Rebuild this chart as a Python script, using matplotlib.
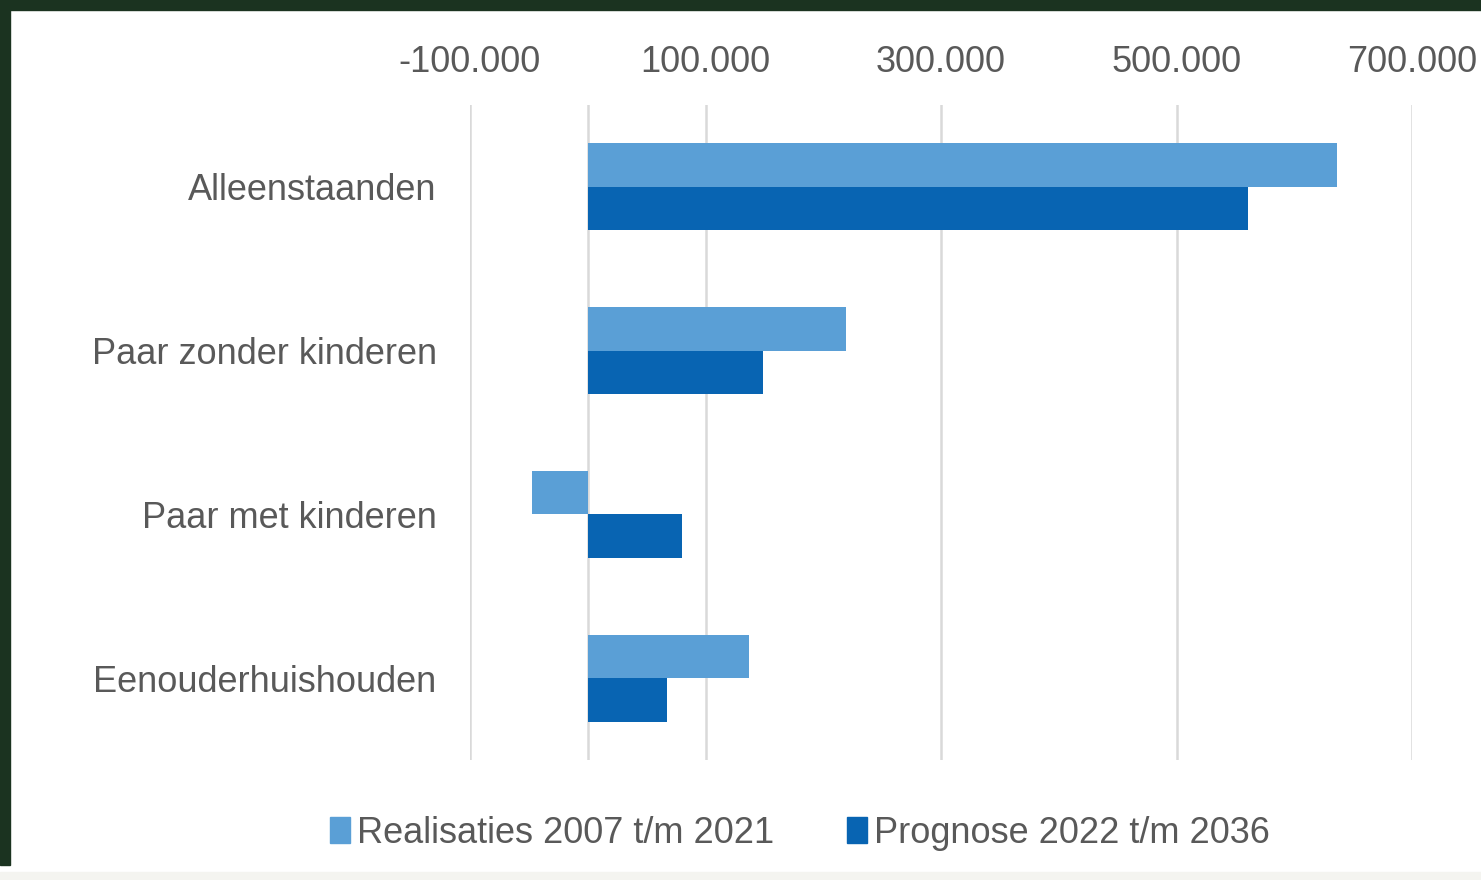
import matplotlib
matplotlib.use("Agg")
import matplotlib.pyplot as plt
import numpy as np
from matplotlib.patches import Rectangle, Patch

categories = ["Alleenstaanden", "Paar zonder kinderen", "Paar met kinderen", "Eenouderhuishouden"]
realisaties = [636000, 219000, -47000, 137000]
prognose = [561000, 149000, 80000, 67000]
series_names = ["Realisaties 2007 t/m 2021", "Prognose 2022 t/m 2036"]
tick_values = [-100000, 100000, 300000, 500000, 700000]
tick_labels = ["-100.000", "100.000", "300.000", "500.000", "700.000"]

light = "#5a9fd6"
dark = "#0864b2"
txt = "#595959"

plt.rcParams['font.family'] = ['Liberation Sans', 'DejaVu Sans']

fig = plt.figure(figsize=(14.81, 8.80), dpi=100)
fig.patch.set_facecolor("white")
# frame strips
fig.patches.append(Rectangle((0, 1 - 10/880), 1, 10/880, transform=fig.transFigure, color="#1b3320", zorder=0))
fig.patches.append(Rectangle((0, 15/880), 10/1481, 1, transform=fig.transFigure, color="#1b3320", zorder=0))
fig.patches.append(Rectangle((0, 0), 1, 8/880, transform=fig.transFigure, color="#f4f4f0", zorder=0))

ax = fig.add_axes([470/1481, 120/880, 942/1481, 655/880])
y = np.arange(len(categories))
h = 0.265
ax.barh(y - h/2, realisaties, height=h, color=light, zorder=3)
ax.barh(y + h/2, prognose, height=h, color=dark, zorder=3)

ax.set_xlim(-100000, 700000)
ax.set_ylim(len(categories) - 0.5, -0.5)
ax.set_xticks(tick_values)
ax.set_xticklabels(tick_labels)
ax.xaxis.tick_top()
ax.tick_params(axis='x', length=0, pad=18, labelsize=26, labelcolor=txt)
ax.set_yticks(y)
ax.set_yticklabels(categories)
ax.tick_params(axis='y', length=0, pad=24, labelsize=26, labelcolor=txt)
ax.grid(axis='x', color="#d9d9d9", linewidth=1.8, zorder=0)
ax.axvline(0, color="#d9d9d9", linewidth=1.8, zorder=1)
for s in ax.spines.values():
    s.set_visible(False)

handles = [Patch(color=light), Patch(color=dark)]
fig.legend(handles, series_names, loc='center', bbox_to_anchor=(800/1481, 1 - 833/880),
           ncol=2, frameon=False, fontsize=26, labelcolor=txt,
           handlelength=0.55, handleheight=0.75, handletextpad=0.2, columnspacing=2.0)

fig.savefig("out.png", dpi=100, facecolor=fig.get_facecolor())
